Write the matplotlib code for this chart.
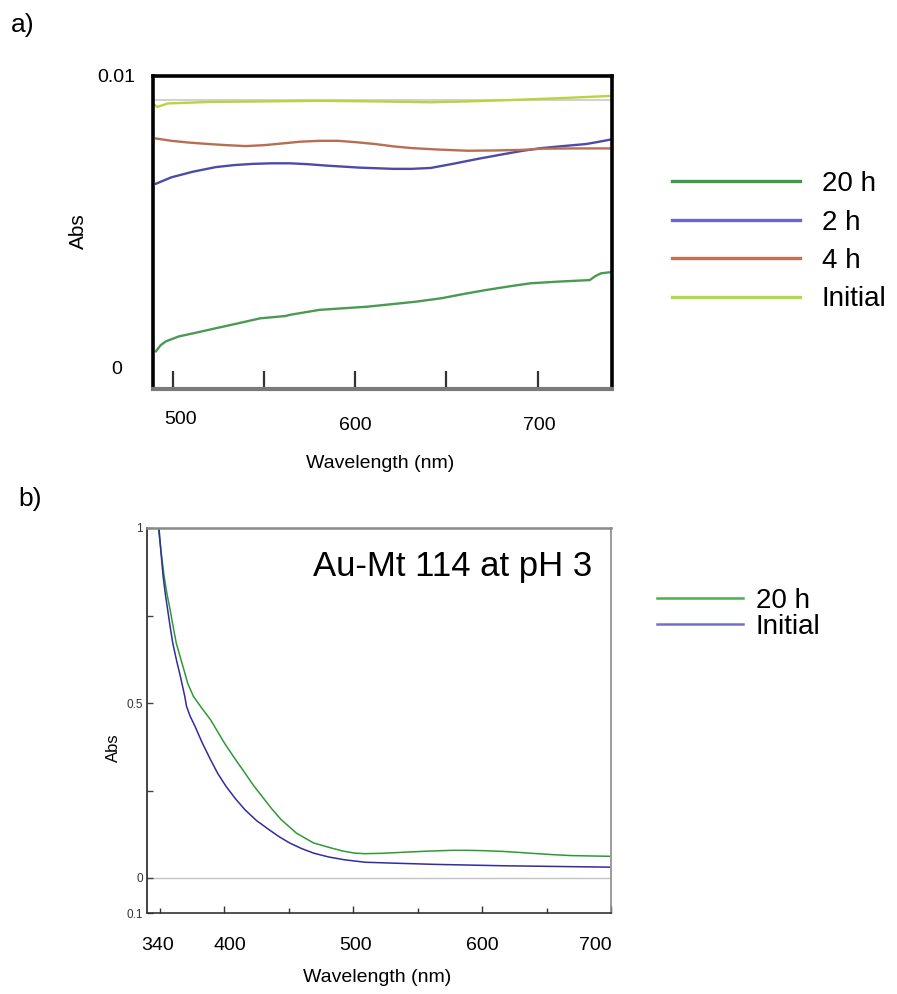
import matplotlib
matplotlib.use("Agg")
import matplotlib.pyplot as plt
from matplotlib.transforms import blended_transform_factory

plt.rcParams['font.family'] = ['Liberation Sans', 'DejaVu Sans']

# ---------------- Panel a data ----------------
a_labels = ["20 h", "2 h", "4 h", "Initial"]
a_wl_20h = [490.9, 493.5, 496.3, 503.4, 513.0, 523.7, 536.0, 548.0, 562.0, 564.3, 580.5, 606.9, 633.3, 647.5, 660.0, 671.8, 684.0, 696.0, 712.0, 728.6, 731.5, 734.7, 739.8]
a_abs_20h = [0.00057, 0.00078, 0.00091, 0.00108, 0.00121, 0.00136, 0.00153, 0.00170, 0.00178, 0.00182, 0.00199, 0.00210, 0.00227, 0.00239, 0.00254, 0.00267, 0.00279, 0.00290, 0.00296, 0.00301, 0.00314, 0.00324, 0.00328]
a_wl_2h = [490.9, 499.4, 511.0, 523.7, 534.0, 544.0, 554.0, 564.3, 574.0, 584.6, 603.0, 621.0, 631.0, 641.4, 653.5, 668.0, 682.0, 692.0, 702.0, 714.0, 726.6, 733.0, 739.8]
a_abs_2h = [0.00631, 0.00653, 0.00672, 0.00688, 0.00695, 0.00699, 0.00701, 0.00701, 0.00698, 0.00693, 0.00686, 0.00682, 0.00682, 0.00685, 0.00699, 0.00717, 0.00733, 0.00744, 0.00753, 0.00760, 0.00767, 0.00774, 0.00782]
a_wl_4h = [490.9, 499.4, 509.0, 519.7, 530.0, 540.0, 550.0, 560.2, 570.0, 580.5, 590.7, 601.0, 611.0, 621.0, 631.2, 646.0, 661.7, 677.0, 692.1, 702.2, 720.0, 740.8]
a_abs_4h = [0.00786, 0.00778, 0.00772, 0.00767, 0.00763, 0.00760, 0.00763, 0.00769, 0.00775, 0.00778, 0.00778, 0.00773, 0.00767, 0.00759, 0.00753, 0.00748, 0.00744, 0.00745, 0.00747, 0.00751, 0.00752, 0.00752]
a_wl_init = [489.7, 491.7, 497.4, 519.7, 550.0, 580.5, 610.0, 641.4, 662.0, 682.0, 712.4, 740.8]
a_abs_init = [0.00903, 0.00894, 0.00906, 0.00911, 0.00913, 0.00915, 0.00913, 0.00910, 0.00913, 0.00917, 0.00924, 0.00932]
a_baseline = 0.00917
a_xticks = [500, 550, 600, 650, 700]
a_xticklabels = ["500", "600", "700"]
a_xticklabel_vals = [500, 600, 700]
a_yticks = [0, 0.01]
a_yticklabels = ["0", "0.01"]

# ---------------- Panel b data ----------------
b_labels = ["20 h", "Initial"]
b_wl_20h = [348.8, 351.0, 353.3, 355.5, 357.9, 360.3, 362.7, 366.5, 370.1, 371.5, 376.0, 382.0, 389.3, 394.5, 400.0, 408.0, 416.0,
            422.5, 429.3, 436.5, 444.0, 456.0, 469.3, 482.7, 492.0, 501.3, 509.3, 522.0, 536.0, 556.0, 576.0, 589.3,
            602.0, 616.0, 629.0, 642.7, 656.0, 669.3, 684.0, 698.7]
b_abs_20h = [1.0, 0.93, 0.862, 0.812, 0.767, 0.718, 0.671, 0.622, 0.576, 0.557, 0.519, 0.488, 0.452, 0.420, 0.386, 0.342, 0.300,
             0.265, 0.233, 0.199, 0.167, 0.128, 0.100, 0.086, 0.077, 0.071, 0.0695, 0.0705, 0.073, 0.0765, 0.079, 0.079,
             0.078, 0.076, 0.073, 0.0695, 0.0665, 0.064, 0.063, 0.062]
b_wl_init = [349.3, 350.9, 352.5, 354.2, 356.0, 358.0, 360.0, 362.9, 365.9, 369.3, 370.7, 373.5, 377.3, 383.0, 389.3, 395.0,
             401.3, 408.5, 416.0, 425.0, 434.7, 442.5, 450.7, 460.0, 469.3, 481.0, 493.3, 509.3, 535.0, 562.7, 589.0,
             616.0, 657.0, 698.7]
b_abs_init = [1.0, 0.928, 0.862, 0.812, 0.767, 0.717, 0.671, 0.622, 0.576, 0.519, 0.490, 0.462, 0.433, 0.385, 0.338, 0.298,
              0.262, 0.227, 0.195, 0.164, 0.138, 0.118, 0.100, 0.084, 0.071, 0.060, 0.052, 0.045, 0.042, 0.039, 0.037,
              0.035, 0.033, 0.031]
b_title = "Au-Mt 114 at pH 3"
b_xtick_major = [400, 500, 600, 700]
b_xtick_minor = [350, 450, 550, 650]
b_xlabel_vals = [340, 400, 500, 600, 700]
b_xlabel_txt = ["340", "400", "500", "600", "700"]
b_yticks = [-0.1, 0, 0.5, 1]
b_yticklabels = ["0.1", "0", "0.5", "1"]
b_yminor = [0.25, 0.75]

W, H = 897, 994
fig = plt.figure(figsize=(W / 100, H / 100), dpi=100)

def fx(px):
    return px / W

def fy(py):
    return 1 - py / H

# ================= Panel a =================
ax = fig.add_axes([fx(153), fy(389), (612 - 153) / W, (389 - 76) / H])
col_a = {"20 h": "#4a9b52", "2 h": "#4c4ca6", "4 h": "#b86e52", "Initial": "#b9d43e"}
leg_col_a = {"20 h": "#3d9a45", "2 h": "#6a6ac4", "4 h": "#c07252", "Initial": "#b3da45"}
ax.axhline(a_baseline, color="#c8c8c8", lw=1.2, zorder=1)
l20, = ax.plot(a_wl_20h, a_abs_20h, color=col_a["20 h"], lw=1.7, label="20 h")
l2, = ax.plot(a_wl_2h, a_abs_2h, color=col_a["2 h"], lw=1.7, label="2 h")
l4, = ax.plot(a_wl_4h, a_abs_4h, color=col_a["4 h"], lw=1.7, label="4 h")
li, = ax.plot(a_wl_init, a_abs_init, color=col_a["Initial"], lw=1.7, label="Initial")
ax.set_xlim(489.3, 740.8)
ax.set_ylim(-0.00072, 0.01)
for s in ["top", "left", "right"]:
    ax.spines[s].set_color("black")
    ax.spines[s].set_linewidth(2.6)
ax.spines["bottom"].set_color("#7a7a7a")
ax.spines["bottom"].set_linewidth(3)
ax.set_xticks(a_xticks)
ax.tick_params(axis="x", direction="in", length=13, width=1.6, color="#333333",
               labelbottom=False)
ax.set_yticks(a_yticks)
ax.set_yticklabels(a_yticklabels, fontsize=14)
ax.tick_params(axis="y", length=0, pad=26.5)
for t in ax.get_yticklabels():
    t.set_ha("center")
trans_a = blended_transform_factory(ax.transData, ax.transAxes)
a_lab_off = [(8.5, -31), (0, -37), (1.5, -37)]
for v, txt, (dx, dy) in zip(a_xticklabel_vals, a_xticklabels, a_lab_off):
    ax.annotate(txt, xy=(v, 0), xycoords=trans_a, xytext=(dx, dy),
                textcoords="offset pixels", ha="center", va="center", fontsize=14)
fig.text(fx(78), fy(231), "Abs", rotation=90, ha="center", va="center", fontsize=15)
fig.text(fx(380), fy(463), "Wavelength (nm)", ha="center", va="center", fontsize=14)
fig.text(fx(23), fy(25), "a)", ha="center", va="center", fontsize=19)

leg_a = fig.legend([l20, l2, l4, li], a_labels, loc="upper left",
                   bbox_to_anchor=(fx(672), fy(171)), frameon=False, fontsize=20,
                   handlelength=4.6, handletextpad=0.8, labelspacing=0.45,
                   borderpad=0, borderaxespad=0)
for h, lab in zip(leg_a.get_lines(), a_labels):
    h.set_linewidth(2.4)
    h.set_color(leg_col_a[lab])

# ================= Panel b =================
bx = fig.add_axes([fx(147), fy(913), (611 - 147) / W, (913 - 528) / H])
g_col, b_col = "#2f9a34", "#2e2e9e"
bx.axhline(0, color="#c4c4c4", lw=1.0, zorder=1)
g20, = bx.plot(b_wl_20h, b_abs_20h, color=g_col, lw=1.1, label="20 h")
gin, = bx.plot(b_wl_init, b_abs_init, color=b_col, lw=1.1, label="Initial")
bx.set_xlim(340, 700)
bx.set_ylim(-0.1, 1.0)
bx.spines["left"].set_color("#222222")
bx.spines["bottom"].set_color("#333333")
bx.spines["top"].set_color("#8a8a8a")
bx.spines["right"].set_color("#8a8a8a")
bx.spines["top"].set_linewidth(1.8)
bx.spines["right"].set_linewidth(1.2)
bx.spines["left"].set_linewidth(1.2)
bx.spines["bottom"].set_linewidth(1.2)
bx.set_xticks(b_xtick_major)
bx.set_xticks(b_xtick_minor, minor=True)
bx.tick_params(axis="x", which="major", direction="in", length=5, width=1, color="#333333",
               labelbottom=False)
bx.tick_params(axis="x", which="minor", direction="in", length=3.5, width=1, color="#333333")
bx.set_yticks(b_yticks)
bx.set_yticklabels(b_yticklabels, fontsize=8.5, color="#333333")
bx.set_yticks(b_yminor, minor=True)
bx.tick_params(axis="y", which="both", direction="in", length=4, width=1, color="#444444", pad=3)
bx.text(0.658, 0.899, b_title, transform=bx.transAxes, ha="center", va="center", fontsize=25)
trans_b = blended_transform_factory(bx.transData, bx.transAxes)
b_lab_off = [11, 6, 2, 0, -16]
for v, txt, dx in zip(b_xlabel_vals, b_xlabel_txt, b_lab_off):
    bx.annotate(txt, xy=(v, 0), xycoords=trans_b, xytext=(dx, -32),
                textcoords="offset pixels", ha="center", va="center", fontsize=14)
fig.text(fx(113), fy(748), "Abs", rotation=90, ha="center", va="center", fontsize=12)
fig.text(fx(377), fy(977), "Wavelength (nm)", ha="center", va="center", fontsize=14)
fig.text(fx(30), fy(499), "b)", ha="center", va="center", fontsize=19)

leg_b = fig.legend([g20, gin], b_labels, loc="upper left",
                   bbox_to_anchor=(fx(657), fy(588)), frameon=False, fontsize=20,
                   handlelength=3.1, handletextpad=0.45, labelspacing=0.0,
                   borderpad=0, borderaxespad=0)
for h, c in zip(leg_b.get_lines(), ["#4cae50", "#7070cc"]):
    h.set_linewidth(1.8)
    h.set_color(c)

fig.savefig("out.png", dpi=100)
